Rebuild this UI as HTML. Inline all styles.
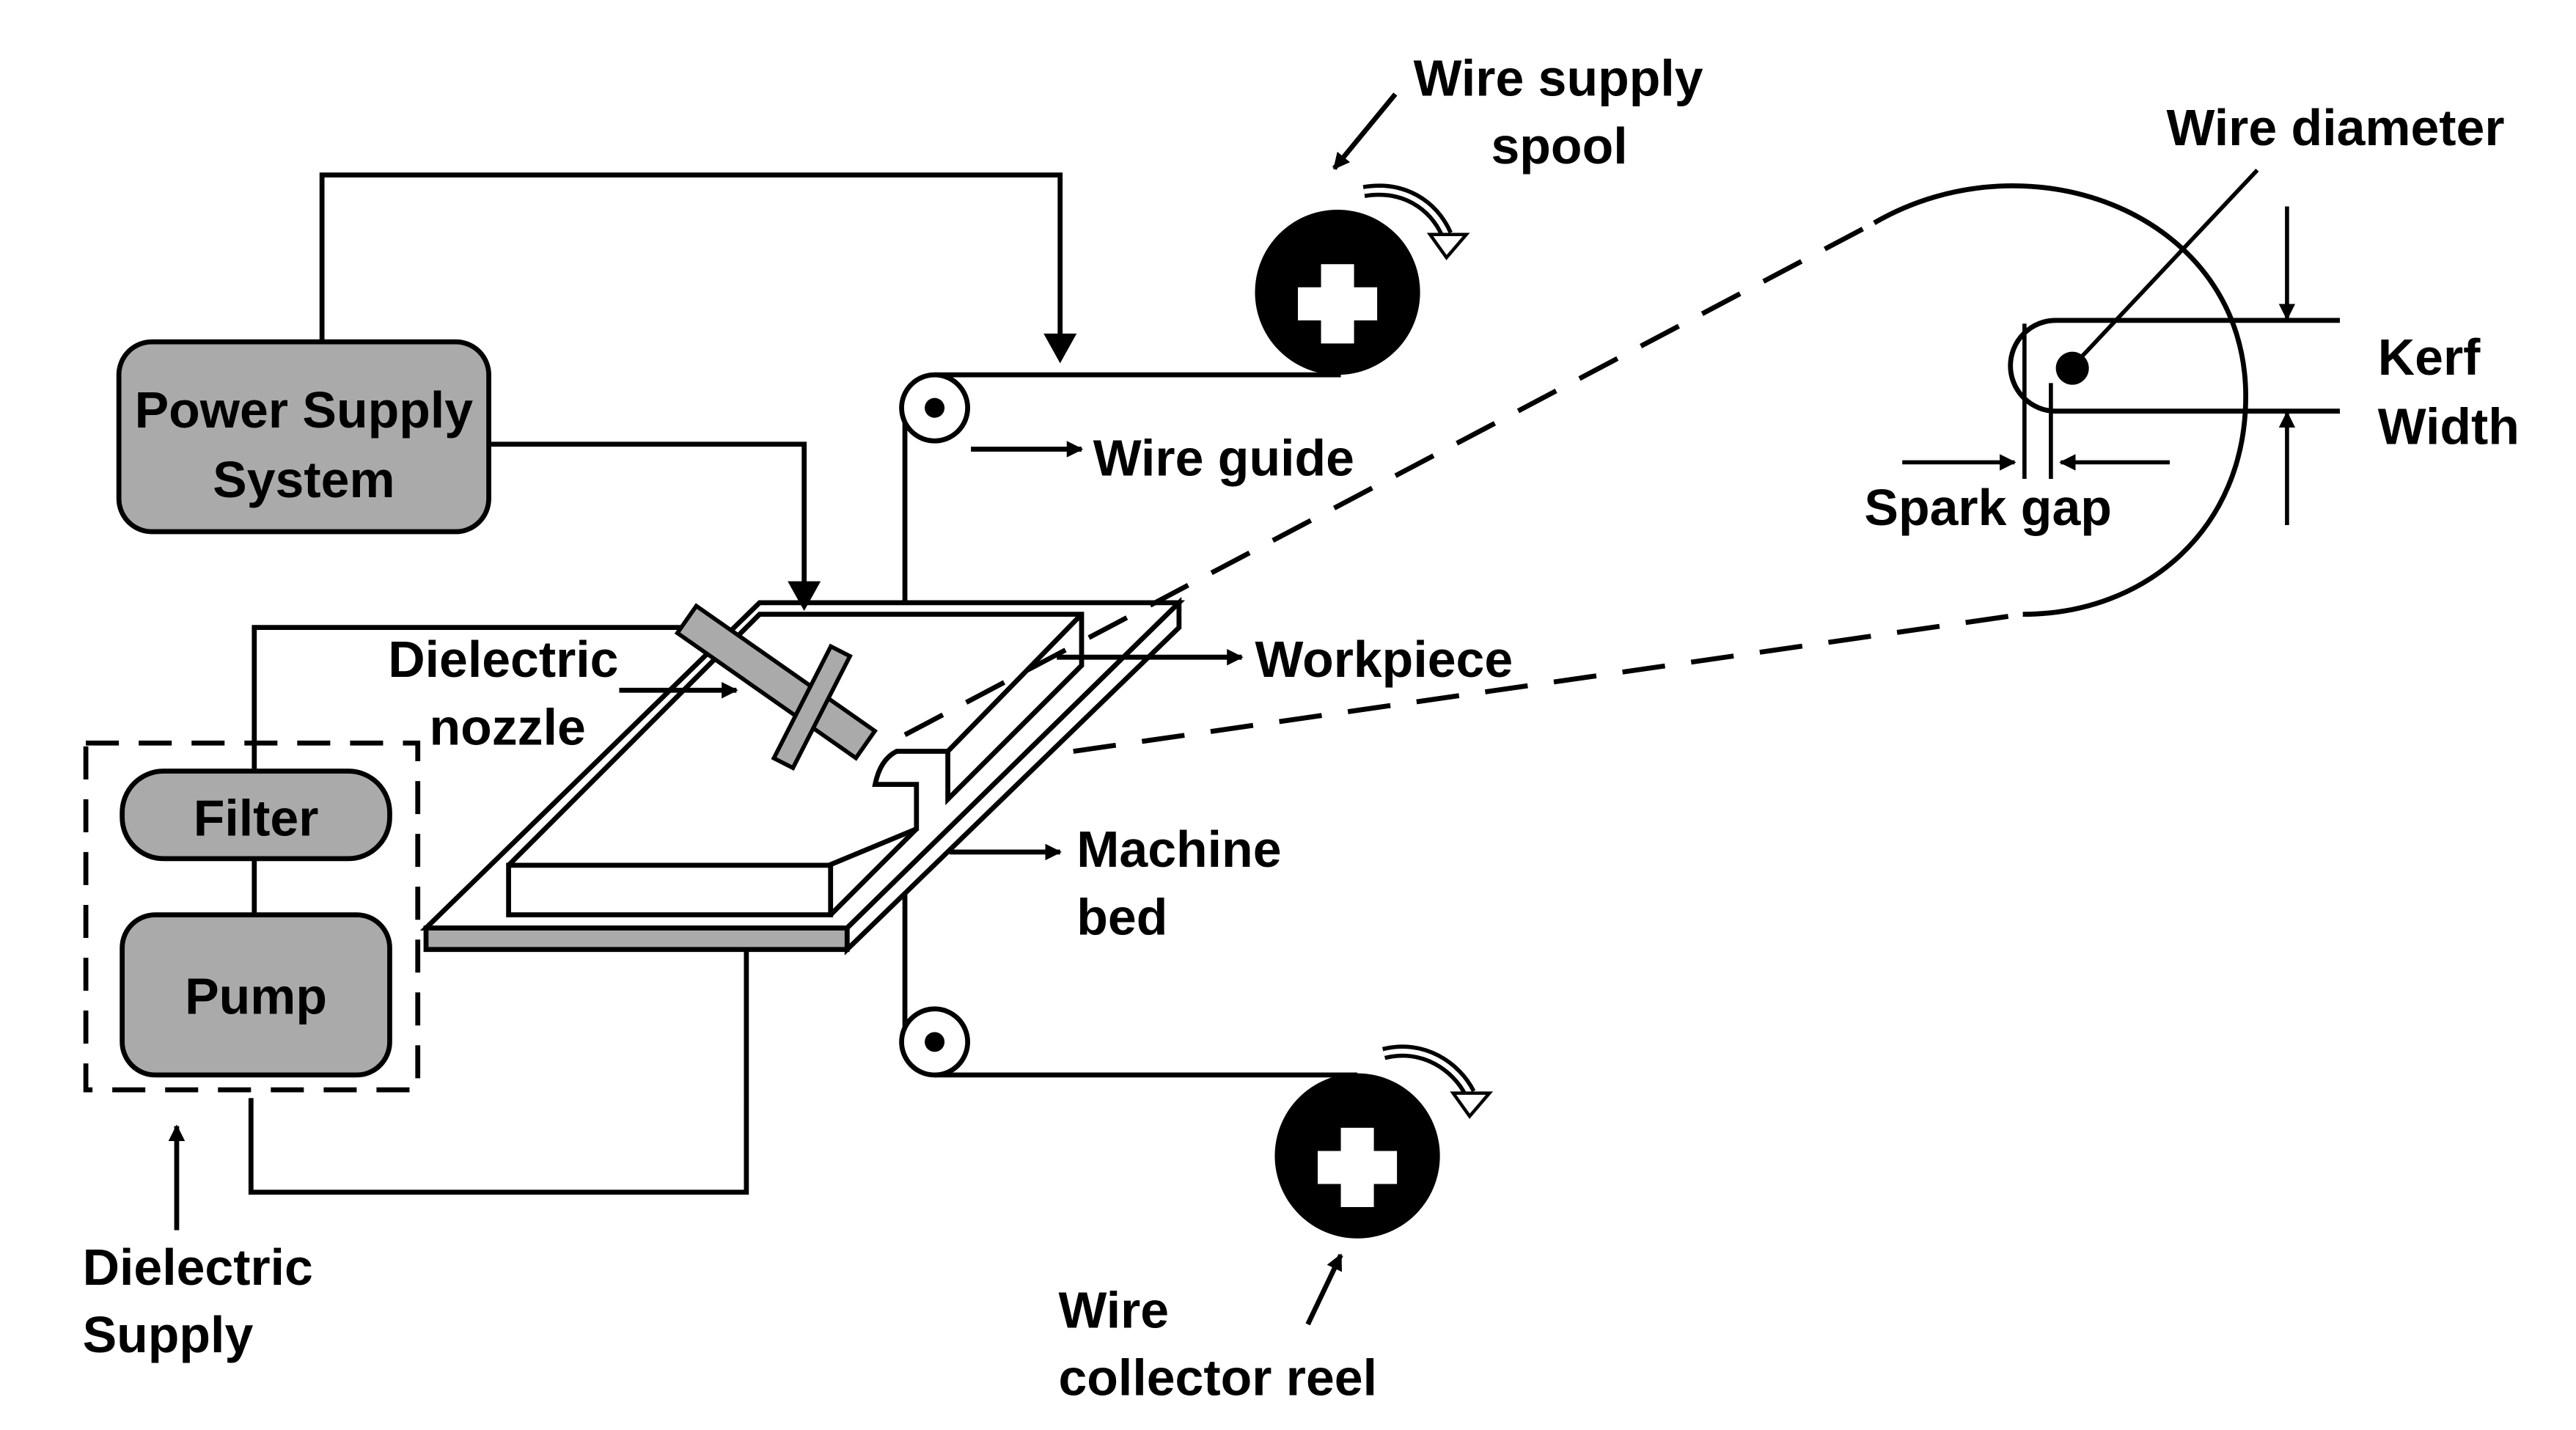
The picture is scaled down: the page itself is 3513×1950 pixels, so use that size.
<!DOCTYPE html>
<html><head><meta charset="utf-8"><style>html,body{margin:0;padding:0;background:#fff}svg{display:block}</style></head>
<body>
<svg width="3513" height="1950" viewBox="0 0 1560 866" preserveAspectRatio="none" xmlns="http://www.w3.org/2000/svg">
<defs>
<marker id="a" markerWidth="10" markerHeight="10" refX="9" refY="5" orient="auto" markerUnits="userSpaceOnUse"><path d="M0,0 L10,5 L0,10 z" fill="#000"/></marker>
</defs>
<g font-family="Liberation Sans, sans-serif" font-weight="bold" font-size="31" fill="#000">
<g fill="none" stroke="#000" stroke-width="3">
<polyline points="195,207 195,106 642,106 642,208"/>
<polyline points="296,269 487,269 487,356"/>
<polyline points="154,467 154,380 425,380"/>
<line x1="154" y1="520" x2="154" y2="554"/>
<polyline points="152,665 152,722 452,722 452,575"/>
<line x1="548" y1="245" x2="548" y2="460"/>
<line x1="548" y1="540" x2="548" y2="632"/>
<line x1="566" y1="227" x2="812" y2="227"/>
<line x1="566" y1="651" x2="822" y2="651"/>
<!-- bed -->
<polygon points="258,562 460,365 714,365 513,562" fill="#fff"/>
<polygon points="714,365 714,380 513,575 513,562" fill="#fff"/>
<!-- workpiece -->
<path d="M308,524 L460,372 L655,372 L574,455 L543,455 Q532,460 530,475 L555,475 L555,502 L502,524 Z" fill="#fff" stroke="none"/>
<path d="M308,524 L460,372 L655,372 L655,403 L574,484 L574,455 L543,455 Q533,460 530,475 L555,475 L555,502 L502,524"/>
<line x1="655" y1="372" x2="574" y2="455"/>
<rect x="308" y="524" width="195" height="30" fill="#fff"/>
<line x1="503" y1="554" x2="555" y2="502"/>
<!-- dashed -->
<path d="M548,445 L1135,135" stroke-dasharray="26,16"/>
<path d="M650,455 L1225,372" stroke-dasharray="26,16"/>
<path d="M1135,135 C1230,80 1360,130 1360,240 C1360,320 1300,372 1225,372"/>
<!-- detail -->
<path d="M1417,194 L1245,194 A27,27 0 0 0 1245,249 L1417,249"/>
<line x1="1226" y1="196" x2="1226" y2="290" stroke-width="2.5"/>
<line x1="1242" y1="232" x2="1242" y2="290" stroke-width="2.5"/>
<line x1="1152" y1="280" x2="1220" y2="280" marker-end="url(#a)" stroke-width="2.5"/>
<line x1="1314" y1="280" x2="1248" y2="280" marker-end="url(#a)" stroke-width="2.5"/>
<line x1="1385" y1="125" x2="1385" y2="193" marker-end="url(#a)" stroke-width="2.5"/>
<line x1="1385" y1="318" x2="1385" y2="250" marker-end="url(#a)" stroke-width="2.5"/>
<line x1="1367" y1="103" x2="1255" y2="222" stroke-width="2.5"/>
<!-- label arrows -->
<line x1="588" y1="272" x2="655" y2="272" marker-end="url(#a)"/>
<line x1="640" y1="398" x2="752" y2="398" marker-end="url(#a)"/>
<line x1="575" y1="516" x2="642" y2="516" marker-end="url(#a)"/>
<line x1="375" y1="418" x2="446" y2="418" marker-end="url(#a)"/>
<line x1="845" y1="57" x2="808" y2="102" marker-end="url(#a)"/>
<line x1="792" y1="802" x2="812" y2="760" marker-end="url(#a)"/>
<line x1="107" y1="745" x2="107" y2="682" marker-end="url(#a)"/>
<path d="M826,116 C850,112 868,124 876,142" stroke-width="8"/>
<path d="M826,116 C850,112 868,124 876,142" stroke="#fff" stroke-width="3"/>
<polygon points="866,142 888,142 876,156" fill="#fff" stroke-width="2"/>
<path d="M838,638 C862,632 882,646 890,662" stroke-width="8"/>
<path d="M838,638 C862,632 882,646 890,662" stroke="#fff" stroke-width="3"/>
<polygon points="880,662 902,662 890,676" fill="#fff" stroke-width="2"/>
<rect x="52" y="450" width="201" height="210" stroke-dasharray="20,12"/>
</g>
<polygon points="632,202 652,202 642,220" fill="#000"/>
<polygon points="477,352 497,352 487,370" fill="#000"/>
<rect x="72" y="207" width="224" height="115" rx="20" fill="#aaa" stroke="#000" stroke-width="3"/>
<rect x="74" y="467" width="162" height="53" rx="25" fill="#aaa" stroke="#000" stroke-width="3"/>
<rect x="74" y="554" width="162" height="97" rx="20" fill="#aaa" stroke="#000" stroke-width="3"/>
<rect x="258" y="562" width="255" height="13" fill="#aaa" stroke="#000" stroke-width="3"/>
<circle cx="566" cy="247" r="20" fill="#fff" stroke="#000" stroke-width="3"/><circle cx="566" cy="247" r="6"/>
<circle cx="566" cy="631" r="20" fill="#fff" stroke="#000" stroke-width="3"/><circle cx="566" cy="631" r="6"/>
<circle cx="810" cy="177" r="50"/><path d="M800,160h20v14h14v20h-14v14h-20v-14h-14v-20h14z" fill="#fff"/>
<circle cx="822" cy="700" r="50"/><path d="M812,683h20v14h14v20h-14v14h-20v-14h-14v-20h14z" fill="#fff"/>
<g transform="translate(470,413) rotate(35)">
<rect x="-66" y="-10" width="132" height="20" fill="#aaa" stroke="#000" stroke-width="2.5"/>
<rect x="20" y="-38" width="13" height="76" fill="#aaa" stroke="#000" stroke-width="2.5" transform="rotate(-8 27 0)"/>
</g>
<circle cx="1255" cy="223" r="10"/>
<text x="184" y="259" text-anchor="middle">Power Supply</text>
<text x="184" y="301" text-anchor="middle">System</text>
<text x="155" y="506" text-anchor="middle">Filter</text>
<text x="155" y="614" text-anchor="middle">Pump</text>
<text x="50" y="778">Dielectric</text>
<text x="50" y="819">Supply</text>
<text x="235" y="410">Dielectric</text>
<text x="260" y="451">nozzle</text>
<text x="662" y="288">Wire guide</text>
<text x="760" y="410">Workpiece</text>
<text x="652" y="525">Machine</text>
<text x="652" y="566">bed</text>
<text x="856" y="58">Wire supply</text>
<text x="903" y="99">spool</text>
<text x="641" y="804">Wire</text>
<text x="641" y="845">collector reel</text>
<text x="1312" y="88">Wire diameter</text>
<text x="1440" y="227">Kerf</text>
<text x="1440" y="269">Width</text>
<text x="1129" y="318">Spark gap</text>
</g>
</svg>
</body></html>
